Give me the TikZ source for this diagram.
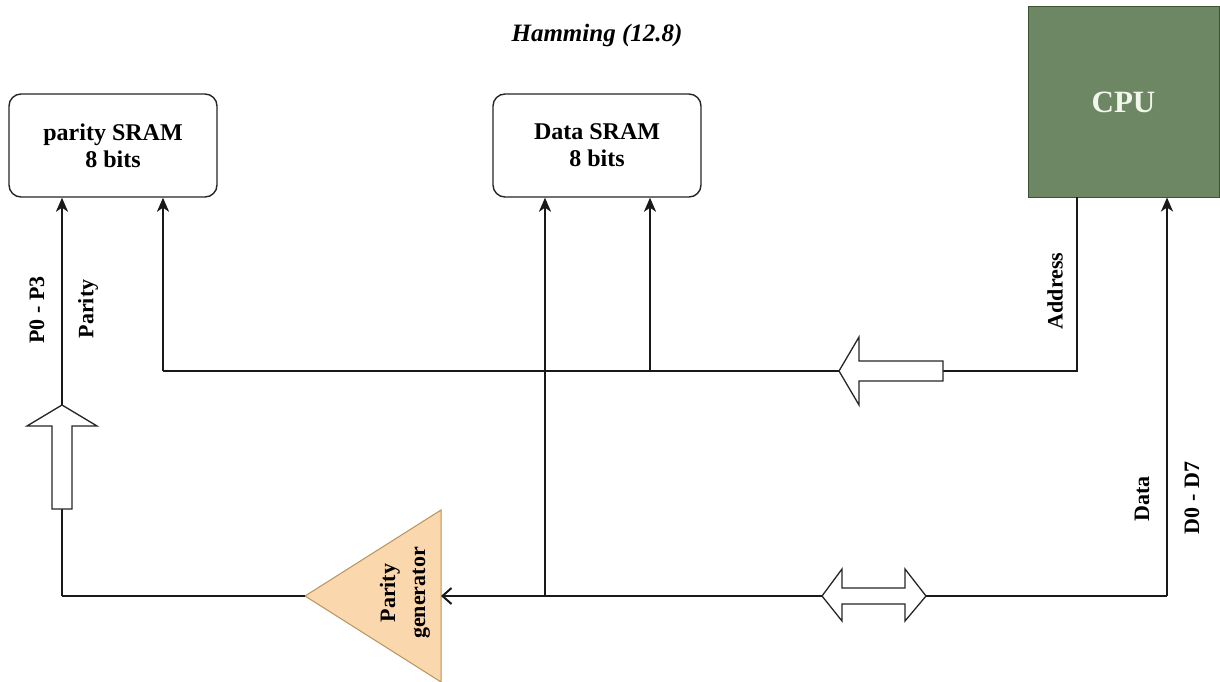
\documentclass[tikz,border=0pt]{standalone}
\usepackage{fontspec}
\setmainfont{Liberation Serif}
\usetikzlibrary{arrows.meta}
\definecolor{cpufill}{HTML}{6D8764}
\definecolor{cpuline}{HTML}{3A5431}
\definecolor{cputext}{HTML}{F2F7EC}
\definecolor{pgfill}{HTML}{FAD7AC}
\definecolor{pgline}{HTML}{B9935A}
\begin{document}
\begin{tikzpicture}[x=1pt,y=-1pt,
  wire/.style={line width=2.2pt, draw=black!90},
  arr/.style={wire, -{Stealth[length=14pt,width=12pt,inset=4pt]}},
  openarr/.style={wire, -{Straight Barb[length=9pt,width=16pt,line width=2pt]}},
  sram/.style={draw=black!85, line width=1.4pt, rounded corners=12pt,
    minimum width=208pt, minimum height=103pt, align=center,
    font=\fontsize{24}{27}\selectfont\bfseries, inner sep=0pt},
  lbl/.style={rotate=90, font=\fontsize{22}{24}\selectfont\bfseries, inner sep=0pt},
  hollow/.style={draw=black!85, fill=white, line width=1.3pt, line join=miter},
]
\useasboundingbox (0,0) rectangle (1220,682);
\fill[white] (0,0) rectangle (1220,682);

% title
\node (title) at (597,35) {\fontsize{25}{28}\selectfont\bfseries\itshape Hamming (12.8)};

% boxes
\node[sram] (psram) at (113,145.5) {parity SRAM\\8 bits};
\node[sram] (dsram) at (597,145.5) {Data SRAM\\8 bits};
\node[draw=cpuline, fill=cpufill, line width=1pt, minimum width=191pt, minimum height=190pt,
  inner sep=0pt, text=cputext, font=\fontsize{31}{34}\selectfont\bfseries] (cpu) at (1123.5,102) {CPU};

% parity generator triangle
\coordinate (pgapex) at (305,596);
\coordinate (pgtop) at (441,510);
\coordinate (pgbot) at (441,682);
\coordinate (pgin) at (441,596);
\filldraw[fill=pgfill, draw=pgline, line width=1pt] (pgapex) -- (pgtop) -- (pgbot) -- cycle;
\node[rotate=90, align=center, inner sep=0pt, font=\fontsize{22}{30}\selectfont\bfseries] (pg) at (405,593) {Parity\\generator};

% junction coordinates
\coordinate (dR) at (1167,596);
\coordinate (dJ) at (545,596);
\coordinate (aT) at (1077,197);
\coordinate (aC) at (1077,371);
\coordinate (aJ) at (650,371);
\coordinate (aL) at (163,371);
\coordinate (pL) at (62,596);

% data bus
\draw[arr] (dR) -- (dR |- cpu.south);
\draw[openarr] (dR) -- (pgin);
\draw[arr] (dJ) -- (dJ |- dsram.south);

% address bus
\draw[wire] (aT) -- (aC) -- (aL);
\draw[arr] (aL) -- (aL |- psram.south);
\draw[arr] (aJ) -- (aJ |- dsram.south);

% parity bus
\draw[wire] (pgapex) -- (pL);
\draw[arr] (pL) -- (pL |- psram.south);

% hollow arrows
\draw[hollow] (839,371) -- (859,337) -- (859,361) -- (943,361) -- (943,381) -- (859,381) -- (859,405) -- cycle;
\draw[hollow] (822,596) -- (842,569) -- (842,588) -- (905,588) -- (905,569) -- (926,596)
  -- (905,621) -- (905,604) -- (842,604) -- (842,621) -- cycle;
\draw[hollow] (62,405) -- (97,426) -- (72,426) -- (72,509) -- (52,509) -- (52,426) -- (27,426) -- cycle;

% labels
\node[lbl] (lp0) at (37,310) {P0 - P3};
\node[lbl] (lpar) at (88,309) {Parity};
\node[lbl] (ladd) at (1055,291) {Address};
\node[lbl] (ldat) at (1142,499) {Data};
\node[lbl] (ld0) at (1192,498) {D0 - D7};
\end{tikzpicture}
\end{document}
